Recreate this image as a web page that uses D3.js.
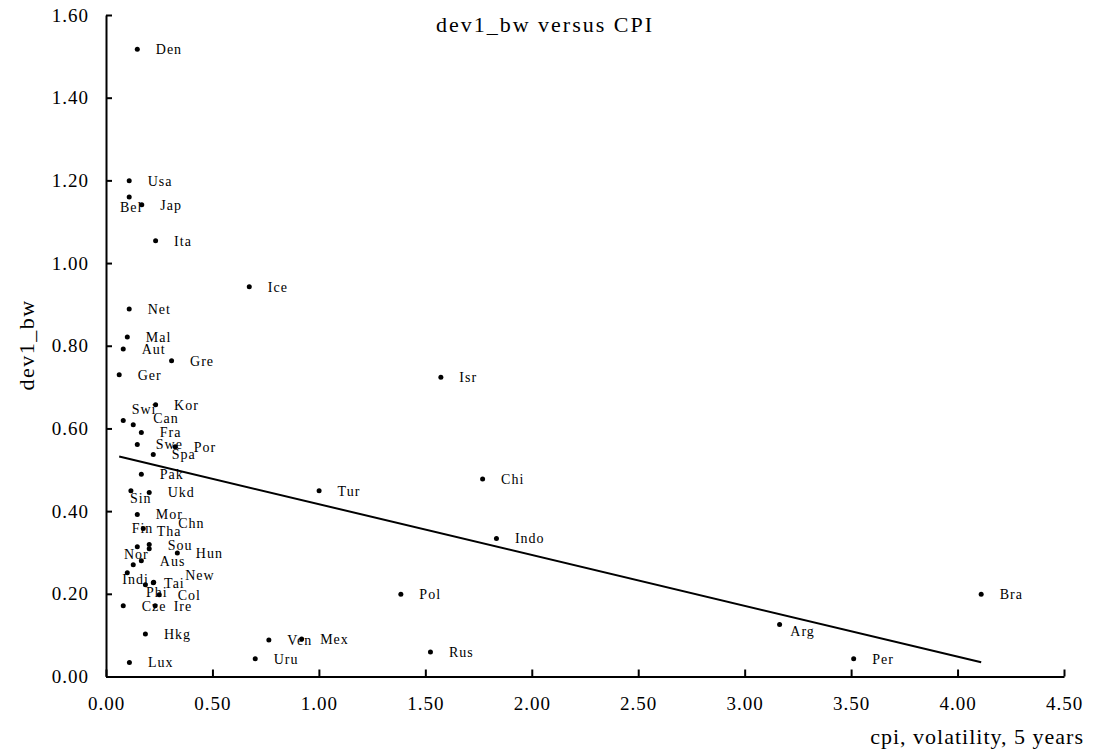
<!DOCTYPE html>
<html>
<head>
<meta charset="utf-8">
<script src="https://cdn.jsdelivr.net/npm/d3@7"></script>
<style>
  html, body { margin: 0; padding: 0; background: #fff; }
  svg { display: block; }
  text { font-family: "Liberation Serif", "Times New Roman", serif; fill: #000; }
</style>
</head>
<body>
<svg id="chart" width="1094" height="755"></svg>
<script>
// ---- data ----
const countries = ["Den","Usa","Bel","Jap","Ita","Ice","Net","Mal","Aut","Gre","Ger","Isr","Kor","Swi","Can","Fra","Swe","Por","Spa","Pak","Sin","Ukd","Tur","Chi","Mor","Fin","Indo","Tha","Sou","Chn","Hun","Aus","Nor","Indi","Phi","New","Tai","Col","Pol","Bra","Cze","Ire","Arg","Hkg","Mex","Ven","Rus","Uru","Per","Lux"];
const cpiVol = [0.147,0.109,0.109,0.168,0.233,0.673,0.109,0.100,0.081,0.308,0.062,1.573,0.233,0.081,0.128,0.166,0.147,0.325,0.222,0.166,0.117,0.203,1.001,1.769,0.147,0.175,1.834,0.147,0.203,0.203,0.335,0.166,0.128,0.100,0.222,0.224,0.185,0.250,1.385,4.111,0.081,0.231,3.164,0.185,0.919,0.765,1.524,0.701,3.512,0.110];
const dev1bw = [1.517,1.199,1.160,1.141,1.054,0.943,0.889,0.821,0.792,0.764,0.730,0.724,0.657,0.619,0.609,0.590,0.561,0.556,0.537,0.489,0.449,0.445,0.449,0.478,0.392,0.358,0.334,0.314,0.319,0.309,0.299,0.280,0.270,0.251,0.227,0.228,0.222,0.198,0.199,0.199,0.171,0.171,0.126,0.103,0.091,0.088,0.059,0.043,0.043,0.034];
const xTicks = [0,0.5,1,1.5,2,2.5,3,3.5,4,4.5];
const yTicks = [0,0.2,0.4,0.6,0.8,1.0,1.2,1.4,1.6];
const trendIntercept = 0.5397;
const trendSlope = -0.1229;
const titleText = "dev1_bw versus CPI";
const xTitle = "cpi, volatility, 5 years";
const yTitle = "dev1_bw";

// ---- layout (label nudges, px) ----
const defaultLabelOffset = [18.5, 0];
const labelNudge = {
  Bel: [-9.3, 9.7], Swi: [8.4, -11.7], Can: [20, -7], Sin: [-1, 7.6],
  Fin: [-11.6, 0], Tha: [19.4, -15.4], Chn: [29, -25.4], Nor: [-9.3, -10.7],
  New: [31.5, -7.5], Indi: [-5, 6.6], Phi: [-7.3, 9.3], Arg: [10.7, 6.7], Tai: [18.7, -1.4]
};

const svg = d3.select("#chart");
svg.append("rect").attr("width", 1094).attr("height", 755).attr("fill", "#fff");

const x = d3.scaleLinear().domain([0, 4.5]).range([106, 1064]);
const y = d3.scaleLinear().domain([0, 1.6]).range([676.5, 15]);
const fmt = d3.format(".2f");

// axes
const yAxis = svg.append("g").attr("transform", `translate(${x(0)},0)`)
  .call(d3.axisLeft(y).tickValues(yTicks).tickFormat(fmt).tickSizeInner(-6).tickSizeOuter(0).tickPadding(17));
const xAxis = svg.append("g").attr("transform", `translate(0,${y(0)})`)
  .call(d3.axisBottom(x).tickValues(xTicks).tickFormat(fmt).tickSizeInner(-7).tickSizeOuter(0).tickPadding(20));
[xAxis, yAxis].forEach(g => {
  g.select(".domain").attr("stroke", "#000").attr("stroke-width", 2);
  g.selectAll(".tick line").attr("stroke", "#000").attr("stroke-width", 2);
  g.selectAll(".tick text").attr("font-family", "Liberation Serif").attr("font-size", 19)
    .attr("letter-spacing", "1px").attr("fill", "#000");
});

// trend line
const xmin = d3.min(cpiVol), xmax = d3.max(cpiVol);
svg.append("path")
  .datum([xmin, xmax])
  .attr("d", d3.line().x(d => x(d)).y(d => y(trendIntercept + trendSlope * d)))
  .attr("stroke", "#000").attr("stroke-width", 2).attr("fill", "none");

// points
const pts = countries.map((c, i) => ({ name: c, cx: cpiVol[i], cy: dev1bw[i] }));
svg.append("g").selectAll("circle").data(pts).join("circle")
  .attr("cx", d => x(d.cx)).attr("cy", d => y(d.cy)).attr("r", 2.5).attr("fill", "#000");

svg.append("g").selectAll("text").data(pts).join("text")
  .attr("x", d => x(d.cx) + (labelNudge[d.name] || defaultLabelOffset)[0])
  .attr("y", d => y(d.cy) + (labelNudge[d.name] || defaultLabelOffset)[1])
  .attr("dy", "0.35em")
  .attr("font-size", 14).attr("letter-spacing", "1px")
  .text(d => d.name);

// titles
svg.append("text").attr("x", 545).attr("y", 32).attr("text-anchor", "middle")
  .attr("font-size", 22).attr("letter-spacing", "2px").text(titleText);
svg.append("text").attr("x", 1084).attr("y", 744).attr("text-anchor", "end")
  .attr("font-size", 22).attr("letter-spacing", "1px").text(xTitle);
svg.append("text").attr("transform", "translate(34,345) rotate(-90)").attr("text-anchor", "middle")
  .attr("font-size", 22).attr("letter-spacing", "1.5px").text(yTitle);
</script>
</body>
</html>
